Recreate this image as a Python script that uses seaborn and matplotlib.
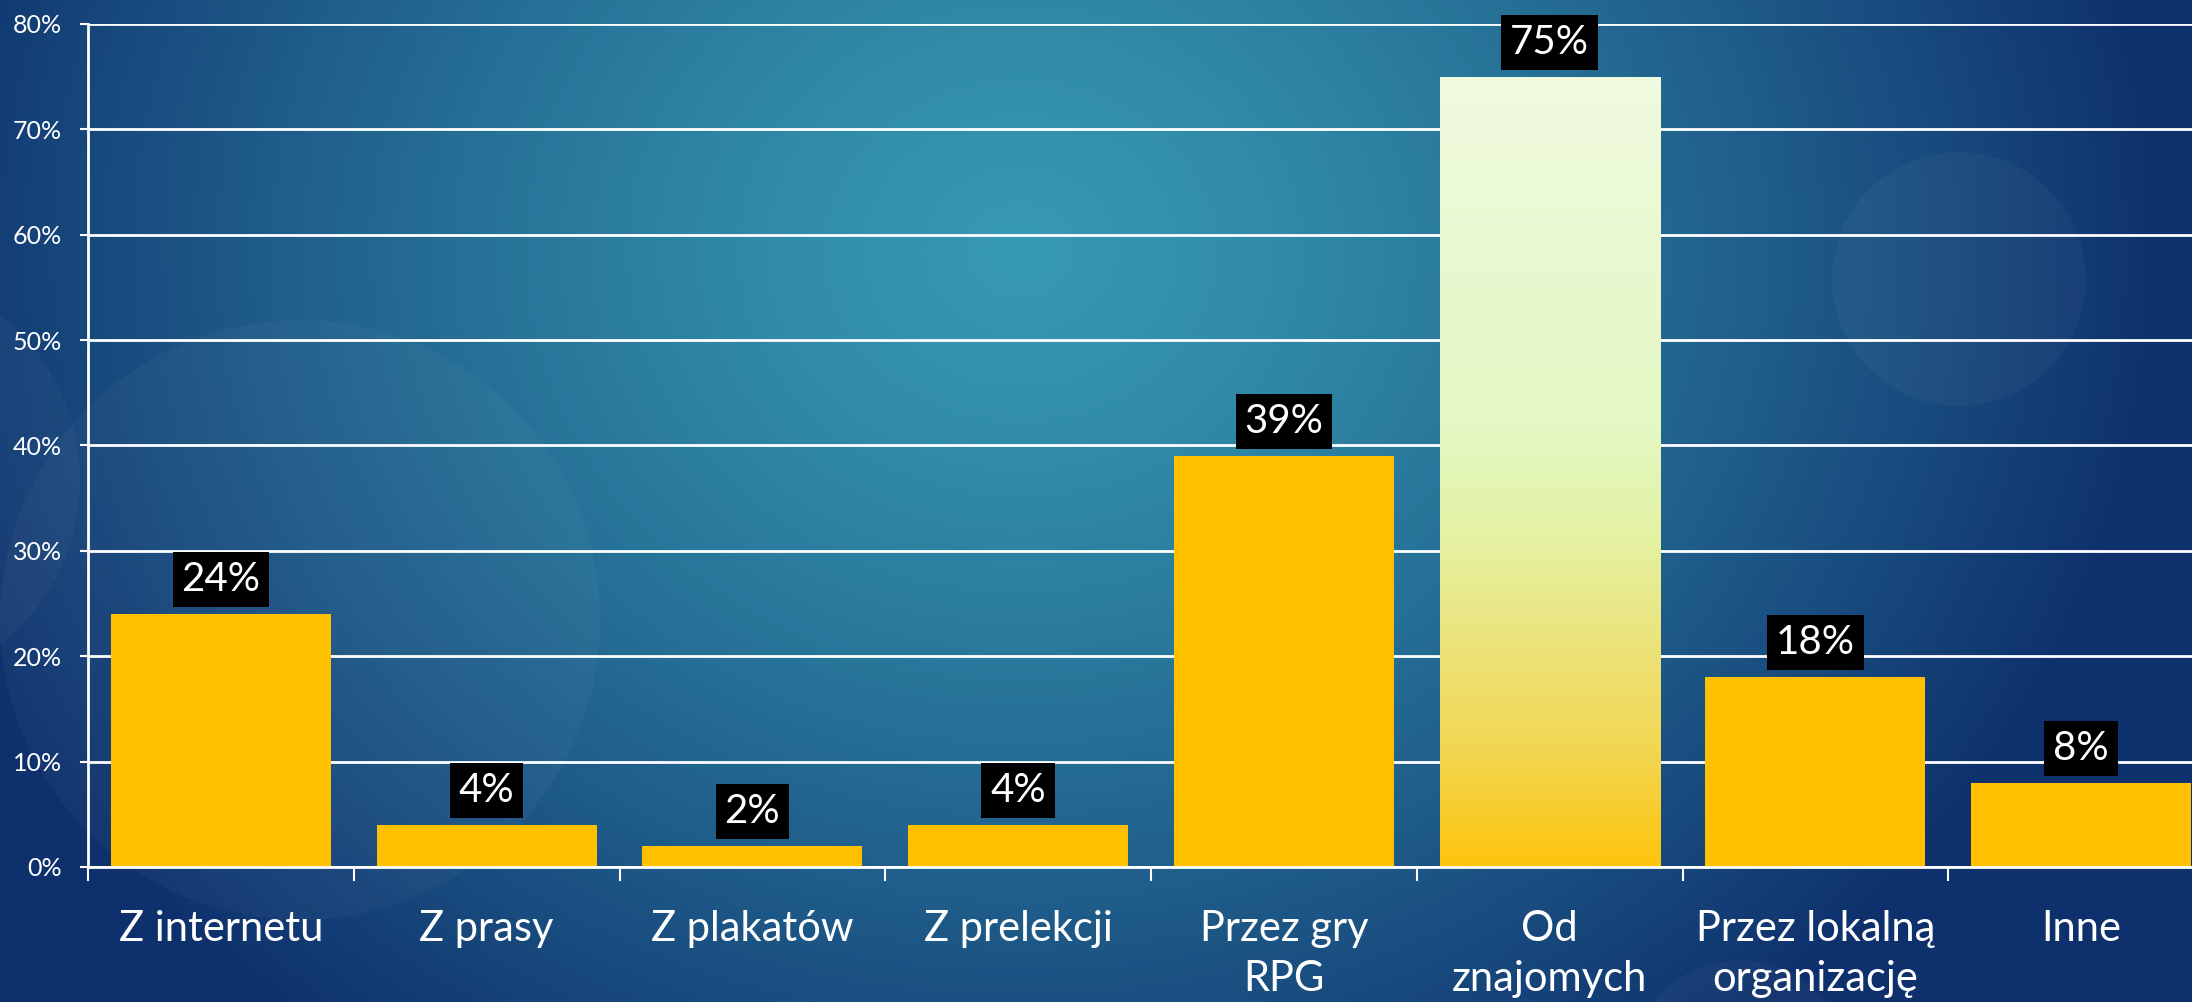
import numpy as np
import pandas as pd
import matplotlib
matplotlib.use("Agg")
import matplotlib.pyplot as plt
import seaborn as sns
from matplotlib.patches import Circle
from matplotlib.colors import LinearSegmentedColormap

# ---------------- data ----------------
categories = ["Z internetu", "Z prasy", "Z plakatów", "Z prelekcji",
              "Przez gry\nRPG", "Od\nznajomych", "Przez lokalną\norganizację", "Inne"]
values = [24, 4, 2, 4, 39, 75, 18, 8]
highlight = "Od\nznajomych"
yticks = [0, 10, 20, 30, 40, 50, 60, 70, 80]
ytick_labels = [f"{t}%" for t in yticks]

# ---------------- style ----------------
sns.set_theme(style="white")
plt.rcParams["font.family"] = ["Lato", "DejaVu Sans"]

W, H = 2192, 1002
fig = plt.figure(figsize=(W / 100, H / 100), dpi=100)

# background: radial blue gradient with faint circles
bg = fig.add_axes([0, 0, 1, 1], zorder=0)
bg.set_axis_off()
yy, xx = np.mgrid[0:H, 0:W]
cx, cy = 1020, 250
d = np.sqrt(((xx - cx) / 1150.0) ** 2 + ((yy - cy) / 1000.0) ** 2)
t = np.clip(d, 0, 1) ** 1.3
c_center = np.array([54, 153, 178]) / 255.0
c_edge = np.array([14, 48, 108]) / 255.0
img = c_center[None, None, :] + t[..., None] * (c_edge - c_center)[None, None, :]
bg.imshow(img, extent=(0, W, H, 0), aspect="auto", interpolation="bilinear")
for (x0, y0, r, a) in [(300, 620, 300, 0.03), (-130, 480, 210, 0.03),
                       (1959, 279, 127, 0.035), (1740, 1070, 110, 0.03)]:
    bg.add_patch(Circle((x0, y0), r, facecolor="white", edgecolor="none", alpha=a))
bg.set_xlim(0, W)
bg.set_ylim(H, 0)

# main axes (extends slightly past the right edge like the reference)
left_px, right_px, top_px, bottom_px = 88, 2214, 24, 867
ax = fig.add_axes([left_px / W, 1 - bottom_px / H, (right_px - left_px) / W,
                   (bottom_px - top_px) / H], zorder=1)
ax.patch.set_alpha(0)

df = pd.DataFrame({"cat": categories, "val": values})
sns.barplot(data=df, x="cat", y="val", color="#FFC000", saturation=1,
            width=0.828, ax=ax, zorder=3, linewidth=0, edgecolor="none")

ax.set_xlabel("")
ax.set_ylabel("")

# gradient fill for the highlighted bar
idx = categories.index(highlight)
patch = ax.patches[idx]
px0, px1 = patch.get_x(), patch.get_x() + patch.get_width()
grad_stops = [(0.00, "#F0FADF"), (0.45, "#E3F8C2"), (0.58, "#E4F2A4"),
              (0.72, "#ECE37A"), (0.86, "#F3D650"), (1.00, "#FEC40C")]
cmap = LinearSegmentedColormap.from_list("g", grad_stops)
grad = cmap(np.linspace(0, 1, 256))[:, None, :]
im = ax.imshow(grad, extent=(px0, px1, 0, values[idx]), origin="upper",
               aspect="auto", zorder=4, interpolation="bilinear")
im.set_clip_path(patch)
ax.set_xlim(-0.5, len(categories) - 0.5)
ax.set_ylim(0, 80)

# grid / spines / ticks
ax.set_axisbelow(True)
ax.set_yticks(yticks)
ax.set_yticklabels(ytick_labels)
ax.yaxis.grid(True, color="white", linewidth=2)
ax.xaxis.grid(False)
for s in ["top", "right"]:
    ax.spines[s].set_visible(False)
for s in ["left", "bottom"]:
    ax.spines[s].set_color("white")
    ax.spines[s].set_linewidth(2)
    ax.spines[s].set_zorder(5)

ax.tick_params(axis="y", colors="white", labelsize=18, length=6, width=1.5,
               pad=13, direction="out", left=True)
ax.set_xticks(np.arange(-0.5, len(categories), 1.0), minor=True)
ax.tick_params(axis="x", which="minor", length=10, width=1.5, color="white",
               direction="out", bottom=True)
ax.tick_params(axis="x", which="major", length=0, pad=31, labelsize=30,
               labelcolor="white")
for tl in ax.get_xticklabels():
    tl.set_linespacing(1.4)

# value labels in black boxes
for i, v in enumerate(values):
    ax.annotate(f"{v}%", xy=(i, v), xytext=(0, 11.5), textcoords="offset points",
                ha="center", va="bottom", fontsize=29, color="white",
                bbox=dict(boxstyle="square,pad=0.22", fc="black", ec="none"),
                zorder=6, annotation_clip=False)

fig.savefig("out.png", dpi=100)
